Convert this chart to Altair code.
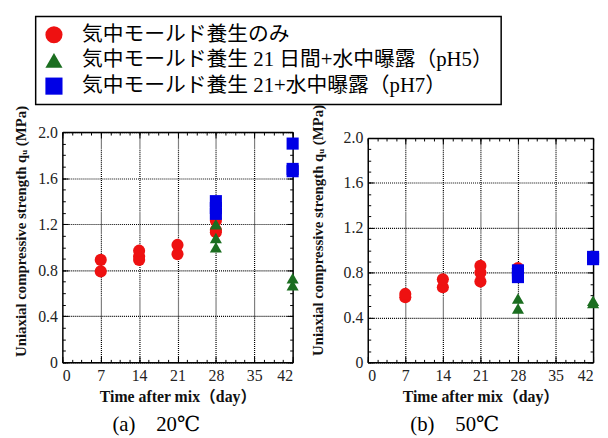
import altair as alt
import pandas as pd

SERIES = ["気中モールド養生のみ",
          "気中モールド養生 21 日間+水中曝露（pH5）",
          "気中モールド養生 21+水中曝露（pH7）"]
COLORS = ["#ee1111", "#1b6e20", "#0000e6"]
SHAPES = ["circle", "triangle-up", "square"]

# Panel (a) 20℃
a_red_day = [7, 7, 14, 14, 14, 21, 21, 28, 28, 28]
a_red_val = [0.79, 0.89, 0.89, 0.92, 0.97, 0.94, 1.02, 1.13, 1.15, 1.23]
a_green_day = [28, 28, 28, 42, 42]
a_green_val = [1.00, 1.08, 1.20, 0.67, 0.73]
a_blue_day = [28, 28, 28, 42, 42, 42]
a_blue_val = [1.29, 1.34, 1.40, 1.66, 1.68, 1.90]

# Panel (b) 50℃
b_red_day = [7, 7, 14, 14, 21, 21, 21, 28]
b_red_val = [0.58, 0.61, 0.67, 0.74, 0.72, 0.80, 0.86, 0.84]
b_green_day = [28, 28, 42, 42]
b_green_val = [0.48, 0.57, 0.53, 0.55]
b_blue_day = [28, 28, 28, 42, 42]
b_blue_val = [0.76, 0.79, 0.82, 0.92, 0.94]

X_MAJOR = [0, 7, 14, 21, 28, 35, 42]
X_GRID = [7, 14, 21, 28, 35]
X_MINOR = [0, 1.75, 3.5, 5.25, 7, 8.75, 10.5, 12.25, 14, 15.75, 17.5, 19.25, 21,
           22.75, 24.5, 26.25, 28, 29.75, 31.5, 33.25, 35, 36.75, 38.5, 40.25, 42]
Y_MAJOR = [0, 0.4, 0.8, 1.2, 1.6, 2.0]
Y_MINOR = [0, 0.1, 0.2, 0.3, 0.4, 0.5, 0.6, 0.7, 0.8, 0.9, 1.0, 1.1, 1.2, 1.3,
           1.4, 1.5, 1.6, 1.7, 1.8, 1.9, 2.0]

CAPTIONS = ["(a)\u300020℃", "(b)\u300050℃"]
X_TITLE = "Time after mix（day）"
Y_TITLE = "Uniaxial compressive strength q\u1d64 (MPa)"

SERIF = "Liberation Serif, DejaVu Serif, Noto Sans CJK JP"


def make_df(groups):
    rows = []
    for s, (days, vals) in zip(SERIES, groups):
        for d, v in zip(days, vals):
            rows.append({"day": d, "value": v, "series": s})
    return pd.DataFrame(rows)


df_a = make_df([(a_red_day, a_red_val), (a_green_day, a_green_val), (a_blue_day, a_blue_val)])
df_b = make_df([(b_red_day, b_red_val), (b_green_day, b_green_val), (b_blue_day, b_blue_val)])

legend = alt.Legend(
    title=None, orient="none", legendX=-27, legendY=-117, direction="vertical",
    symbolSize=300, symbolStrokeWidth=0, labelFont=SERIF, labelFontSize=21,
    labelColor="#000", labelLimit=0, labelOffset=18, rowPadding=4, padding=8,
    strokeColor="#000",
)

FRAME = dict(domain=True, domainColor="#000", domainWidth=1.5)
HIDE = dict(labels=False, grid=False, title=None)


def panel(df, w, H, top_off, title_x, title_y, caption):
    inner = H - top_off
    xs = alt.Scale(domain=[0, 42], nice=False, zero=False)
    ys = alt.Scale(domain=[0, 2.0], nice=False, range=[H, top_off])

    def X(axis):
        return alt.X("day:Q", scale=xs, axis=axis)

    def Y(axis):
        return alt.Y("value:Q", scale=ys, axis=axis)

    main = alt.Chart(df).mark_point(filled=True, opacity=1, size=150, strokeWidth=0).encode(
        x=X(alt.Axis(
            values=X_MAJOR, orient="bottom", ticks=False, grid=False, **FRAME,
            labelFont=SERIF, labelFontSize=16, labelColor="#222", labelPadding=5,
            title=X_TITLE, titleFont=SERIF, titleFontSize=16, titleFontWeight="bold",
            titleColor="#111", titlePadding=6)),
        y=Y(alt.Axis(
            values=Y_MAJOR, orient="left", ticks=False, grid=True, **FRAME,
            gridDash=[1, 1], gridColor="#000", gridWidth=1.2,
            labelExpr="datum.value == 0 ? '0' : format(datum.value, '.1f')",
            labelFont=SERIF, labelFontSize=16, labelColor="#222", labelPadding=5,
            title=Y_TITLE, titleFont=SERIF, titleFontSize=15, titleFontWeight="bold",
            titleColor="#111", titleX=title_x, titleY=title_y, titleBaseline="middle",
            titleAngle=-90)),
        color=alt.Color("series:N", scale=alt.Scale(domain=SERIES, range=COLORS), legend=legend),
        shape=alt.Shape("series:N", scale=alt.Scale(domain=SERIES, range=SHAPES), legend=legend),
    )

    def helper(xaxis, yaxis):
        return alt.Chart(df).mark_point(opacity=0).encode(x=X(xaxis), y=Y(yaxis))

    # vertical dotted grid drawn as full-height inward ticks; right frame line
    vgrid = helper(
        alt.Axis(values=X_GRID, orient="bottom", offset=-inner, tickSize=inner,
                 tickDash=[1, 1], tickColor="#000", tickWidth=1.2, domain=False, **HIDE),
        alt.Axis(orient="right", ticks=False, **FRAME, **HIDE),
    )
    # top frame line
    topframe = helper(
        alt.Axis(orient="top", offset=-top_off, ticks=False, **FRAME, **HIDE),
        None,
    )

    def ticks(xvals, yvals, xo, yo, size):
        xoff = -(top_off + size) if xo == "top" else -size
        return helper(
            alt.Axis(values=xvals, orient=xo, offset=xoff, tickSize=size, tickColor="#000",
                     domain=False, **HIDE),
            alt.Axis(values=yvals, orient=yo, offset=-size, tickSize=size, tickColor="#000",
                     domain=False, **HIDE),
        )

    layers = [
        main, vgrid, topframe,
        ticks(X_MINOR, Y_MINOR, "bottom", "left", 3),
        ticks(X_MINOR, Y_MINOR, "top", "right", 3),
        ticks(X_MAJOR, Y_MAJOR, "bottom", "left", 6),
        ticks(X_MAJOR, Y_MAJOR, "top", "right", 6),
    ]
    return alt.layer(*layers).resolve_axis(x="independent", y="independent").properties(
        width=w, height=H,
        title=alt.TitleParams(caption, orient="bottom", anchor="middle", frame="bounds",
                              font=SERIF, fontSize=21, fontWeight="normal", color="#000",
                              offset=9),
    )


left = panel(df_a, 233, 233, 0, -42, 100, CAPTIONS[0])
right = panel(df_b, 228, 233, 6, -51, 99, CAPTIONS[1])

chart = alt.hconcat(left, right, spacing=76, bounds="flush").properties(
    padding={"left": 5, "top": 5, "right": 0, "bottom": 0}
).configure_view(stroke="transparent").configure_legend(strokeWidth=1.5)

chart.save("out.html", embed_options={"renderer": "svg", "actions": False})
